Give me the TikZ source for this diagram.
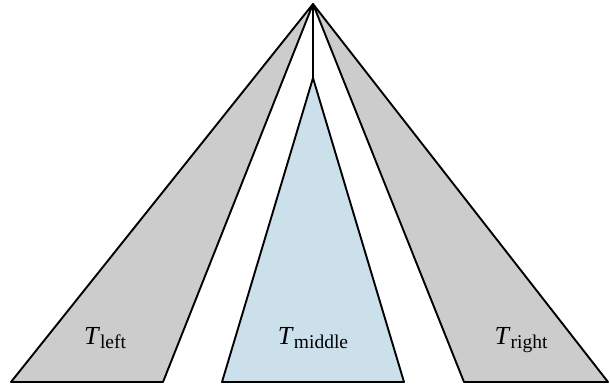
\documentclass[tikz,border=0pt]{standalone}
\usepackage{fontspec}
\setmainfont{Liberation Serif}
\definecolor{treegray}{RGB}{204,204,204}
\definecolor{treeblue}{RGB}{204,224,235}
\newcommand{\tlabel}[1]{\textit{T}\raisebox{-4.5pt}{\fontsize{19.5}{20}\selectfont #1}}

\begin{document}
\begin{tikzpicture}[x=1pt, y=-1pt, line width=1.9pt, line join=round,
  side/.style = {draw, fill=treegray},
  mid/.style = {draw, fill=treeblue},
  lbl/.style = {anchor=base, inner sep=0pt, font=\fontsize{26}{30}\selectfont}]
\useasboundingbox (0,0) rectangle (610,387);
\coordinate (root) at (313,4);
\coordinate (top) at (313,78);
\draw[side] (root) -- (11,382) -- (163,382) -- cycle;
\draw[side] (root) -- (464,382) -- (608,382) -- cycle;
\draw (root) -- (top);
\draw[mid] (top) -- (222,382) -- (404,382) -- cycle;
\node[lbl] (left) at (105,344) {\tlabel{left}};
\node[lbl] (middle) at (313,344) {\tlabel{middle}};
\node[lbl] (right) at (521,344) {\tlabel{right}};
\end{tikzpicture}
\end{document}
